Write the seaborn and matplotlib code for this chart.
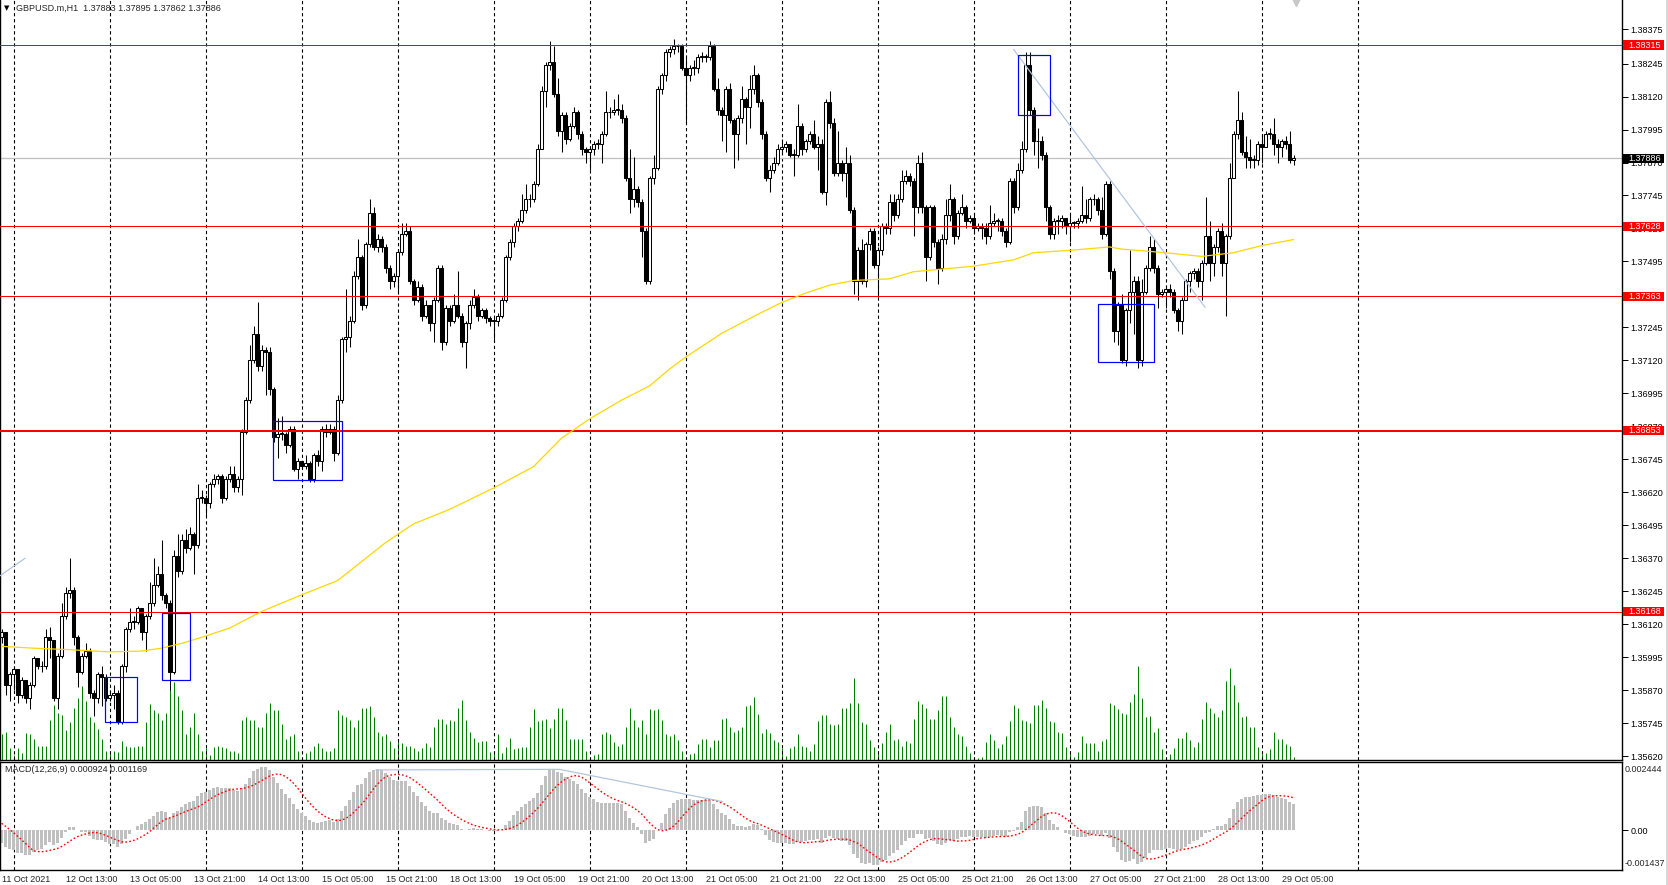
import numpy as np
import pandas as pd
import matplotlib
matplotlib.use("Agg")
import matplotlib.pyplot as plt
import matplotlib.transforms as mtransforms
from matplotlib.patches import Rectangle
import seaborn as sns

# ── canvas (pixels) ──
W, H = 1668, 885

# ── price data, GBPUSD H1, values in 0.1 pip above 1.35 (price = 1.35 + v/10000) ──
BASE = 1.35
OPEN0 = 107
close_v = [
    109, 89, 93, 95, 85, 91, 84, 89, 99, 96,
    96, 107, 106, 84, 100, 115, 124, 125, 107, 94,
    100, 102, 86, 84, 93, 92, 84, 85, 86, 75,
    96, 110, 113, 113, 118, 109, 115, 120, 127, 131,
    123, 120, 94, 138, 132, 144, 141, 146, 142, 160,
    160, 158, 165, 167, 168, 160, 167, 169, 164, 167,
    185, 197, 212, 222, 210, 216, 215, 201, 183, 184,
    184, 180, 186, 171, 174, 172, 173, 167, 176, 174,
    186, 185, 186, 177, 197, 220, 221, 227, 244, 251,
    233, 256, 268, 255, 258, 255, 247, 242, 244, 253,
    260, 261, 242, 235, 240, 229, 233, 226, 235, 247,
    219, 232, 227, 233, 229, 219, 226, 233, 236, 229,
    231, 228, 227, 227, 229, 235, 251, 257, 263, 265,
    269, 273, 273, 279, 292, 314, 324, 325, 313, 299,
    305, 296, 301, 306, 298, 292, 291, 292, 294, 294,
    298, 306, 306, 307, 307, 304, 281, 273, 277, 272,
    261, 242, 281, 285, 315, 320, 329, 330, 331, 331,
    323, 320, 323, 323, 327, 327, 327, 331, 315, 307,
    305, 315, 303, 298, 304, 311, 308, 315, 320, 310,
    298, 281, 284, 287, 292, 293, 294, 290, 290, 301,
    292, 295, 298, 293, 294, 276, 310, 302, 283, 287,
    283, 287, 269, 242, 254, 242, 256, 261, 248, 254,
    263, 262, 272, 267, 273, 280, 282, 280, 270, 287,
    270, 251, 270, 257, 247, 258, 267, 273, 259, 268,
    270, 265, 266, 262, 263, 262, 259, 264, 265, 265,
    261, 257, 280, 270, 284, 292, 324, 307, 295, 295,
    290, 270, 260, 265, 265, 266, 263, 264, 264, 265,
    267, 266, 273, 273, 269, 260, 279, 246, 223, 233,
    212, 231, 238, 242, 212, 238, 247, 255, 247, 237,
    238, 239, 238, 231, 227, 235, 242, 245, 246, 242,
    249, 259, 249, 255, 261, 249, 259, 281, 298, 303,
    291, 289, 288, 288, 294, 293, 298, 298, 294, 293,
    295, 294, 288, 288.6,
]
high_v = [
    110, 109, 94, 96, 95, 92, 91, 90, 100, 99,
    98, 110, 111, 106, 101, 120, 126, 137, 126, 108,
    101, 105, 103, 87, 94, 96, 93, 87, 89, 87,
    97, 111, 118, 115, 119, 118, 116, 128, 137, 134,
    144, 124, 121, 140, 146, 146, 148, 149, 147, 165,
    163, 161, 166, 169, 169, 169, 168, 172, 172, 168,
    186, 198, 218, 225, 234, 218, 217, 217, 202, 190,
    191, 185, 187, 187, 175, 174, 176, 174, 177, 178,
    187, 188, 188, 187, 199, 221, 239, 229, 246, 258,
    252, 257, 273, 270, 260, 259, 256, 248, 245, 254,
    264, 264, 263, 243, 242, 241, 235, 233, 236, 248,
    248, 233, 233, 237, 246, 230, 227, 235, 239, 237,
    232, 232, 229, 228, 230, 236, 252, 258, 264, 266,
    275, 279, 275, 280, 294, 316, 325, 333, 331, 319,
    306, 306, 302, 308, 307, 299, 293, 293, 295, 296,
    299, 314, 308, 311, 313, 309, 305, 292, 289, 278,
    273, 262, 282, 290, 316, 321, 330, 331, 334, 332,
    332, 327, 324, 326, 328, 329, 328, 333, 332, 319,
    308, 316, 317, 304, 305, 316, 312, 320, 324, 321,
    311, 299, 286, 289, 294, 296, 295, 294, 292, 309,
    302, 296, 299, 303, 297, 296, 311, 314, 304, 299,
    288, 293, 290, 270, 255, 258, 257, 262, 262, 255,
    264, 264, 275, 275, 275, 284, 284, 283, 281, 290,
    291, 271, 271, 271, 258, 260, 273, 279, 274, 269,
    275, 271, 267, 267, 264, 264, 264, 271, 268, 266,
    266, 262, 281, 281, 287, 295, 329, 329, 308, 300,
    297, 291, 271, 266, 267, 267, 266, 267, 265, 266,
    278, 273, 274, 275, 274, 274, 280, 280, 247, 234,
    237, 232, 254, 244, 244, 243, 248, 259, 258, 248,
    239, 240, 241, 239, 232, 236, 243, 246, 247, 247,
    250, 274, 265, 256, 262, 264, 260, 287, 299, 314,
    306, 297, 296, 290, 295, 298, 299, 300, 304, 296,
    296, 297, 299, 290,
]
low_v = [
    105, 85, 83, 87, 82, 84, 82, 80, 88, 95,
    94, 95, 99, 83, 80, 99, 114, 122, 104, 88,
    93, 99, 84, 77, 82, 81, 83, 83, 80, 74,
    74, 94, 109, 110, 112, 106, 102, 114, 119, 126,
    121, 118, 87, 93, 130, 131, 139, 140, 131, 141,
    158, 153, 156, 164, 165, 158, 159, 166, 162, 162,
    161, 184, 196, 211, 208, 208, 199, 199, 181, 175,
    182, 177, 179, 170, 167, 171, 171, 166, 166, 172,
    170, 183, 184, 174, 176, 196, 215, 217, 226, 243,
    231, 232, 255, 254, 253, 253, 245, 239, 240, 238,
    252, 259, 241, 233, 234, 227, 228, 223, 219, 234,
    216, 218, 225, 226, 228, 217, 209, 224, 232, 227,
    228, 226, 225, 219, 225, 228, 234, 250, 255, 261,
    264, 268, 270, 272, 278, 292, 308, 322, 312, 297,
    291, 294, 295, 300, 296, 290, 287, 284, 290, 292,
    287, 297, 304, 305, 305, 302, 280, 268, 270, 270,
    251, 241, 241, 279, 284, 313, 318, 327, 328, 329,
    322, 302, 318, 320, 321, 325, 325, 326, 314, 305,
    295, 291, 302, 285, 288, 302, 294, 300, 313, 308,
    296, 280, 276, 283, 286, 291, 291, 289, 282, 289,
    290, 291, 294, 292, 284, 275, 271, 300, 282, 282,
    280, 274, 268, 237, 235, 241, 240, 254, 247, 236,
    252, 260, 260, 265, 266, 272, 279, 278, 259, 268,
    268, 242, 250, 255, 241, 246, 256, 265, 256, 258,
    267, 262, 264, 260, 261, 258, 256, 258, 263, 261,
    259, 255, 256, 268, 269, 283, 291, 305, 290, 285,
    288, 265, 258, 258, 260, 262, 260, 257, 262, 262,
    264, 264, 265, 271, 267, 258, 259, 243, 219, 218,
    211, 210, 226, 222, 209, 210, 237, 246, 245, 232,
    236, 232, 236, 230, 223, 222, 235, 238, 243, 240,
    235, 248, 242, 244, 253, 244, 229, 258, 281, 296,
    290, 285, 285, 285, 286, 287, 293, 296, 290, 287,
    289, 292, 287, 286,
]
# tick volume (relative units)
volume = [
    55, 60, 25, 10, 25, 15, 57, 55, 45, 30,
    30, 30, 85, 115, 100, 95, 63, 80, 110, 130,
    155, 125, 90, 80, 65, 45, 20, 15, 20, 17,
    40, 30, 27, 27, 30, 30, 80, 117, 105, 100,
    85, 100, 150, 165, 135, 105, 55, 70, 100, 55,
    20, 25, 10, 27, 30, 27, 25, 20, 20, 15,
    85, 90, 85, 85, 70, 70, 100, 120, 105, 105,
    75, 45, 50, 55, 20, 5, 15, 20, 30, 35,
    25, 20, 20, 25, 105, 95, 90, 85, 70, 85,
    110, 110, 113, 90, 60, 50, 55, 40, 25, 45,
    35, 30, 30, 25, 20, 25, 35, 27, 70, 87,
    87, 75, 85, 83, 110, 127, 85, 60, 47, 37,
    40, 40, 17, 15, 55, 15, 27, 47, 23, 25,
    27, 27, 70, 107, 83, 85, 87, 67, 87, 110,
    110, 85, 45, 45, 45, 45, 20, 7, 10, 13,
    55, 60, 55, 37, 30, 33, 70, 110, 85, 70,
    85, 55, 107, 105, 107, 85, 55, 50, 55, 43,
    20, 5, 13, 15, 33, 45, 45, 27, 43, 43,
    87, 88, 70, 60, 63, 70, 113, 115, 133, 97,
    57, 65, 57, 43, 37, 25, 8, 25, 30, 55,
    30, 27, 20, 33, 83, 95, 95, 75, 73, 75,
    110, 110, 120, 172, 120, 80, 75, 43, 27, 15,
    35, 60, 75, 43, 45, 30, 40, 35, 87, 125,
    117, 110, 87, 87, 105, 135, 135, 90, 70, 55,
    50, 30, 15, 7, 5, 7, 37, 55, 43, 25,
    33, 50, 83, 115, 110, 85, 83, 77, 115, 115,
    127, 110, 83, 80, 58, 57, 27, 17, 7, 17,
    50, 35, 35, 35, 20, 40, 45, 120, 115, 107,
    100, 97, 122, 140, 197, 130, 90, 93, 60, 67,
    23, 7, 13, 25, 47, 47, 60, 43, 27, 37,
    87, 123, 110, 100, 90, 105, 167, 193, 157, 123,
    90, 93, 70, 70, 27, 12, 15, 23, 58, 45,
    45, 33, 30, 7,
]
assert len(close_v) == len(high_v) == len(low_v) == len(volume) == 324

# moving average (yellow), read at a few bars
ma_bars = [0, 8, 16, 27, 35, 40, 45, 50, 57, 65, 75, 84, 90, 96, 103, 112, 123, 133,
           140, 147, 155, 162, 167, 171, 180, 189, 195, 201, 207, 213, 222, 228, 243,
           253, 258, 267, 277, 280, 291, 300, 308, 315, 323]
ma_v = [103.6, 102.9, 102.4, 101.5, 101.8, 102.9, 104.7, 107.0, 110.5, 116.8, 123.1,
        128.5, 135.7, 142.9, 150.0, 155.5, 163.6, 171.7, 182.5, 189.8, 196.9, 202.3,
        208.7, 213.2, 222.2, 229.4, 233.9, 237.5, 240.5, 242.3, 242.9, 245.6, 247.7,
        250.1, 252.8, 253.7, 255.0, 254.2, 252.8, 251.4, 252.8, 255.5, 257.8]

# MACD(12,26,9) start state before the first visible bar
EMA12_SEED, EMA26_SEED, SIGNAL_SEED = 1.3611, 1.3616, 0.00033

# time axis: one label every 16 bars
x_labels = ["11 Oct 2021", "12 Oct 13:00", "13 Oct 05:00", "13 Oct 21:00", "14 Oct 13:00",
            "15 Oct 05:00", "15 Oct 21:00", "18 Oct 13:00", "19 Oct 05:00", "19 Oct 21:00",
            "20 Oct 13:00", "21 Oct 05:00", "21 Oct 21:00", "22 Oct 13:00", "25 Oct 05:00",
            "25 Oct 21:00", "26 Oct 13:00", "27 Oct 05:00", "27 Oct 21:00", "28 Oct 13:00",
            "29 Oct 05:00"]
day_start_bars = [3, 27, 51, 75, 99, 123, 147, 171, 195, 219, 243, 267, 291, 315, 339]

price_ticks = [1.38375, 1.38245, 1.38120, 1.37995, 1.37870, 1.37745, 1.37620, 1.37495,
               1.37370, 1.37245, 1.37120, 1.36995, 1.36870, 1.36745, 1.36620, 1.36495,
               1.36370, 1.36245, 1.36120, 1.35995, 1.35870, 1.35745, 1.35620]
levels = [1.38315, 1.37628, 1.37363, 1.36853, 1.36168]
level_px = [1, 1, 1, 2, 1]
last_price = 1.37886

# drawn objects: rectangles (bar0, bar1, v0, v1) and trend lines
boxes = [(25.9, 33.9, 74.8, 92.1), (40.0, 47.0, 90.7, 116.3), (67.9, 85.0, 166.7, 189.2),
         (254.0, 262.0, 305.0, 327.9), (274.0, 288.0, 211.4, 233.5)]
trend_lines = [((253.0, 329.9), (300.9, 232.1)), ((-0.4, 130.3), (5.9, 137.0))]
macd_trend_x = [93.6, 139.5, 180.3]
macd_trend_y = [0.00216, 0.00218, 0.00102]
macd_top, macd_bottom = 0.002444, -0.001437

# ── style ──
sns.set_theme(style="white")
plt.rcParams["font.family"] = ["Liberation Sans", "DejaVu Sans"]
FS = 6.5
PX = 0.72  # one pixel in points


def bar_at(px):
    return (px - 1.5) / 4.0


def price_at(py):
    return 1.38375 - (py - 29.3) / 26380.0


fig = plt.figure(figsize=(W / 100, H / 100), dpi=100, facecolor="white")
ax = fig.add_axes([0, 125 / H, 1622 / W, 760 / H])
ax_m = fig.add_axes([0, 15 / H, 1622 / W, 108 / H])

idx = np.arange(len(close_v))
c = BASE + np.array(close_v) / 1e4
o = np.r_[BASE + OPEN0 / 1e4, c[:-1]]
hi = BASE + np.array(high_v) / 1e4
lo = BASE + np.array(low_v) / 1e4
bull = c >= o
body_lo = np.minimum(o, c)
body_h = np.maximum(np.abs(c - o), 0.00003)

# volumes along the bottom of the price window
vol_tr = mtransforms.blended_transform_factory(ax.transData, ax.transAxes)
ax.vlines(idx, 0, np.array(volume) / 1600.0, color="#008000", lw=PX, transform=vol_tr, zorder=1)

# candles
ax.vlines(idx, lo, hi, color="black", lw=0.75, zorder=2)
ax.bar(idx[bull], body_h[bull], bottom=body_lo[bull], width=0.55, color="white",
       edgecolor="black", linewidth=0.75, zorder=2.1)
ax.bar(idx[~bull], body_h[~bull], bottom=body_lo[~bull], width=0.55, color="black",
       edgecolor="black", linewidth=0.75, zorder=2.1)

# vertical day separators
for a in (ax, ax_m):
    for b in day_start_bars:
        a.axvline(b, color="black", lw=PX * 1.1, linestyle=(0, (3, 2.5)), zorder=1.5)

# levels, bid line, MA, objects
for lv, w in zip(levels, level_px):
    ax.axhline(lv, color="#FF0000", lw=PX * w, zorder=3)
ax.axhline(last_price, color="#C0C0C0", lw=PX * 1.3, zorder=1.6)
sns.lineplot(x=ma_bars, y=BASE + np.array(ma_v) / 1e4, ax=ax, color="#FFD700", lw=0.9, zorder=3)
for b0, b1, v0, v1 in boxes:
    ax.add_patch(Rectangle((b0, BASE + v0 / 1e4), b1 - b0, (v1 - v0) / 1e4, fill=False,
                           edgecolor="#0000FF", lw=PX * 1.2, zorder=4))
for (b0, v0), (b1, v1) in trend_lines:
    ax.plot([b0, b1], [BASE + v0 / 1e4, BASE + v1 / 1e4], color="#B0C4DE", lw=PX * 1.2, zorder=3)

ax.set_xlim(bar_at(0), bar_at(1622))
ax.set_ylim(price_at(760), price_at(0))
ax.set_xticks([])
ax.set_yticks(price_ticks)
ax.set_yticklabels([f"{t:.5f}" for t in price_ticks])
ax.yaxis.tick_right()
ax.tick_params(axis="y", right=True, length=4, width=0.7, pad=2, labelsize=FS, colors="black")
ax.set_xlabel("")
ax.set_ylabel("")
ax.spines["top"].set_visible(False)
for s in ("left", "right", "bottom"):
    ax.spines[s].set_color("black")
    ax.spines[s].set_linewidth(1.0)

# price labels with coloured background on the right scale
lab_tr = mtransforms.blended_transform_factory(fig.transFigure, ax.transData)
box_h = 9.3 / 26380.0
for lv, bg in [(lv, "#FF0000") for lv in levels] + [(last_price, "black")]:
    ax.add_patch(Rectangle((1623 / W, lv - box_h / 2), 41 / W, box_h, transform=lab_tr,
                           facecolor=bg, edgecolor="none", clip_on=False, zorder=9))
    ax.text(1628 / W, lv, f"{lv:.5f}", transform=lab_tr, color="white", fontsize=FS,
            va="center", ha="left", clip_on=False, zorder=10)

# chart header
fig.text(4 / W, 1 - 8 / H, "▼", fontsize=5, color="black", va="center", ha="left",
         family=["DejaVu Sans"])
fig.text(16 / W, 1 - 8 / H, "GBPUSD.m,H1  1.37883 1.37895 1.37862 1.37886", fontsize=FS,
         va="center", ha="left")
ax.plot([bar_at(1296)], [price_at(2)], marker="v", color="#C8C8C8", ms=6, clip_on=False, zorder=5)

# ── MACD(12,26,9) ──
e12, e26 = EMA12_SEED, EMA26_SEED
macd = []
for p in c:
    e12 += 2 / 13 * (p - e12)
    e26 += 2 / 27 * (p - e26)
    macd.append(e12 - e26)
macd = np.array(macd)
signal = pd.Series(np.r_[np.full(8, SIGNAL_SEED), macd]).rolling(9).mean().values[8:]

ax_m.bar(idx, macd, width=0.55, color="#C0C0C0", linewidth=0, zorder=2)
sns.lineplot(x=idx, y=signal, ax=ax_m, color="#FF0000", lw=1.0, linestyle=(0, (1.2, 1.6)), zorder=3)
ax_m.plot(macd_trend_x, macd_trend_y, color="#B0C4DE", lw=PX * 1.2, zorder=3)
ax_m.set_xlim(bar_at(0), bar_at(1622))
ax_m.set_ylim(macd_bottom, macd_top)
ax_m.set_xticks([])
ax_m.set_yticks([0])
ax_m.set_yticklabels(["0.00"])
ax_m.yaxis.tick_right()
ax_m.tick_params(axis="y", right=True, length=4, width=0.7, pad=2, labelsize=FS, colors="black")
ax_m.set_xlabel("")
ax_m.set_ylabel("")
for s in ax_m.spines.values():
    s.set_color("black")
    s.set_linewidth(1.0)

fig.text(5 / W, 1 - 770 / H, "MACD(12,26,9) 0.000924 0.001169", fontsize=FS, va="center", ha="left")
fig.text(1625 / W, 1 - 770 / H, f"{macd_top:.6f}", fontsize=FS, va="center", ha="left")
fig.text(1625 / W, 1 - 863 / H, f"{macd_bottom:.6f}", fontsize=FS, va="center", ha="left")

# time labels
t_tr = mtransforms.blended_transform_factory(ax_m.transData, fig.transFigure)
for k, lab in enumerate(x_labels):
    ax_m.text(16 * k + 0.1, 1 - 879 / H, lab, transform=t_tr, fontsize=FS, va="center",
              ha="left", clip_on=False)

# right window edge
fig.add_artist(plt.Line2D([1666.5 / W, 1666.5 / W], [0, 1], color="#D8D8D8", lw=1.5))

fig.savefig("out.png", dpi=100, facecolor="white")
